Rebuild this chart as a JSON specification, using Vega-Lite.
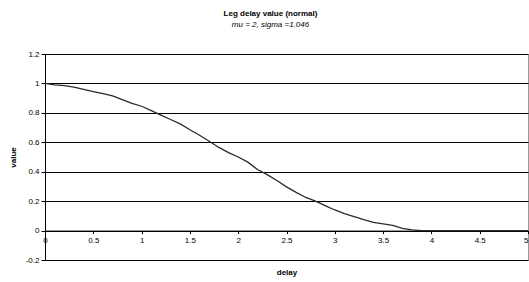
{
  "$schema": "https://vega.github.io/schema/vega-lite/v6.json",
  "width": 483,
  "height": 206,
  "autosize": {"type": "none"},
  "padding": {"left": 45, "top": 54, "right": 1, "bottom": 22},
  "background": "#ffffff",
  "title": {
    "text": "Leg delay value (normal)",
    "subtitle": "mu  = 2, sigma =1.046",
    "anchor": "middle",
    "frame": "group",
    "dx": -16,
    "offset": 21,
    "font": "Liberation Sans",
    "fontSize": 8,
    "fontWeight": "bold",
    "color": "#000",
    "subtitleFont": "Liberation Sans",
    "subtitleFontSize": 8,
    "subtitleFontStyle": "italic",
    "subtitleColor": "#000",
    "subtitlePadding": 3
  },
  "config": {
    "view": {"stroke": "#999999", "strokeWidth": 1}
  },
  "data": {
    "values": [
      {"delay": 0.0, "value": 1.0},
      {"delay": 0.1, "value": 0.99},
      {"delay": 0.2, "value": 0.985},
      {"delay": 0.3, "value": 0.975},
      {"delay": 0.4, "value": 0.96},
      {"delay": 0.5, "value": 0.945},
      {"delay": 0.6, "value": 0.93},
      {"delay": 0.7, "value": 0.915},
      {"delay": 0.8, "value": 0.89},
      {"delay": 0.9, "value": 0.865},
      {"delay": 1.0, "value": 0.845},
      {"delay": 1.1, "value": 0.815},
      {"delay": 1.2, "value": 0.785},
      {"delay": 1.3, "value": 0.755},
      {"delay": 1.4, "value": 0.725},
      {"delay": 1.5, "value": 0.685},
      {"delay": 1.6, "value": 0.648},
      {"delay": 1.7, "value": 0.607},
      {"delay": 1.8, "value": 0.565},
      {"delay": 1.9, "value": 0.53},
      {"delay": 2.0, "value": 0.5},
      {"delay": 2.1, "value": 0.465},
      {"delay": 2.2, "value": 0.415},
      {"delay": 2.3, "value": 0.38},
      {"delay": 2.4, "value": 0.34},
      {"delay": 2.5, "value": 0.297},
      {"delay": 2.6, "value": 0.26},
      {"delay": 2.7, "value": 0.225},
      {"delay": 2.8, "value": 0.2},
      {"delay": 2.9, "value": 0.17},
      {"delay": 3.0, "value": 0.14},
      {"delay": 3.1, "value": 0.115},
      {"delay": 3.2, "value": 0.095},
      {"delay": 3.3, "value": 0.075},
      {"delay": 3.4, "value": 0.055},
      {"delay": 3.5, "value": 0.045},
      {"delay": 3.6, "value": 0.035},
      {"delay": 3.7, "value": 0.015},
      {"delay": 3.8, "value": 0.005},
      {"delay": 3.9, "value": 0.0},
      {"delay": 4.0, "value": 0.0},
      {"delay": 4.5, "value": 0.0},
      {"delay": 5.0, "value": 0.0}
    ]
  },
  "mark": {"type": "line", "color": "#2a2a2a", "strokeWidth": 1.3},
  "encoding": {
    "x": {
      "field": "delay",
      "type": "quantitative",
      "scale": {"domain": [0, 5], "nice": false, "zero": false},
      "axis": {
        "values": [0, 0.5, 1, 1.5, 2, 2.5, 3, 3.5, 4, 4.5, 5],
        "labelExpr": "'' + datum.value",
        "labelAlign": {"expr": "datum.value == 5 ? 'right' : 'center'"},
        "offset": -29.4,
        "grid": false,
        "domainColor": "#000",
        "tickColor": "#000",
        "tickSize": 3,
        "labelFlush": false,
        "labelOverlap": false,
        "labelFont": "Liberation Sans",
        "labelFontSize": 8,
        "labelColor": "#000",
        "labelPadding": 3,
        "title": "delay",
        "titleFont": "Liberation Sans",
        "titleFontSize": 8,
        "titleFontWeight": "bold",
        "titleColor": "#000",
        "titlePadding": 24
      }
    },
    "y": {
      "field": "value",
      "type": "quantitative",
      "scale": {"domain": [-0.2, 1.2], "nice": false, "zero": false},
      "axis": {
        "values": [-0.2, 0, 0.2, 0.4, 0.6, 0.8, 1, 1.2],
        "labelExpr": "'' + datum.value",
        "grid": true,
        "gridColor": "#000",
        "gridOpacity": 1,
        "gridWidth": 1,
        "domainColor": "#000",
        "tickColor": "#000",
        "tickSize": 4,
        "labelFont": "Liberation Sans",
        "labelFontSize": 8,
        "labelColor": "#000",
        "labelPadding": 2,
        "title": "value",
        "titleFont": "Liberation Sans",
        "titleFontSize": 8,
        "titleFontWeight": "bold",
        "titleColor": "#000",
        "titlePadding": 8
      }
    }
  }
}
